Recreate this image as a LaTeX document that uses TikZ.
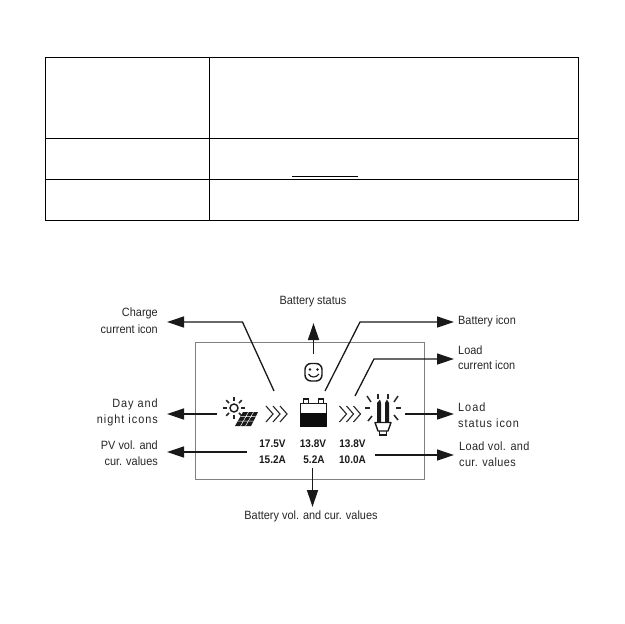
\documentclass[tikz,border=0pt]{standalone}
\usepackage{fontspec}
\setmainfont[FakeStretch=0.91]{Liberation Sans}
\usetikzlibrary{arrows.meta,calc}
\tikzset{
  lbl/.style={inner sep=0pt,text=black!85,font=\fontsize{12}{14}\selectfont},
  lblL/.style={lbl,anchor=west},
  lblR/.style={lbl,anchor=east},
  wide/.style={font=\fontsize{12}{14}\selectfont\addfontfeature{LetterSpace=8}},
  wider/.style={font=\fontsize{12}{14}\selectfont\addfontfeature{LetterSpace=3}},
  val/.style={inner sep=0pt,text=black!90,font=\fontsize{11}{13}\selectfont\bfseries},
  tbl/.style={line width=1pt,black},
  lead/.style={line width=1.3pt,black!90,-{Triangle[length=17pt,width=11pt]}},
  icon/.style={line width=1.4pt,black!90},
  chev/.style={line width=1.1pt,black!85,line join=miter},
  ray/.style={line width=1.5pt,black!85},
}
\newcommand{\chevrons}[2]{%
  \foreach \d in {0,7,14}{\draw[chev] ($(#1+\d,#2-8)$) -- ($(#1+\d+7,#2)$) -- ($(#1+\d,#2+8)$);}}
\begin{document}
\begin{tikzpicture}[x=1pt,y=-1pt]
\useasboundingbox (0,0) rectangle (624,624);
% table
\draw[tbl] (45,57) rectangle (578,220);
\draw[tbl] (45,138) -- (578,138);
\draw[tbl] (45,179) -- (578,179);
\draw[tbl] (209,57) -- (209,220);
\draw[line width=.9pt] (292,176) -- (358,176);
% frame
\draw[line width=.9pt,black!50] (195.5,342.5) rectangle (424.5,479.5);
% labels
\node[lblR] (t1) at (158,313) {Charge};
\node[lblR] (t2) at (158,329) {current icon};
\node[lblR,wide] (t3) at (158,404) {Day and};
\node[lblR,wide] (t4) at (158,420) {night icons};
\node[lblR] (t5) at (158,445) {PV vol. and};
\node[lblR] (t6) at (158,461) {cur. values};
\node[lbl] (t7) at (313,302) {Battery status};
\node[lbl] (t8) at (311,516) {Battery vol. and cur. values};
\node[lblL] (t9) at (458,321) {Battery icon};
\node[lblL] (t10) at (458,350) {Load};
\node[lblL] (t11) at (458,365.5) {current icon};
\node[lblL,wide] (t12) at (458,407) {Load};
\node[lblL,wide] (t13) at (458,423) {status icon};
\node[lblL,wider] (t14) at (459,446) {Load vol. and};
\node[lblL,wider] (t15) at (459,462) {cur. values};
% values
\node[val] (v1) at (272.5,444) {17.5V};
\node[val] (v2) at (272.5,460) {15.2A};
\node[val] (v3) at (313,444) {13.8V};
\node[val] (v4) at (314,460) {5.2A};
\node[val] (v5) at (352.5,444) {13.8V};
\node[val] (v6) at (352.5,460) {10.0A};
% connector ends
\coordinate (aS) at (274,391); \coordinate (aB) at (242.5,322); \coordinate (aT) at (167,322);
\coordinate (dS) at (216.5,414); \coordinate (dT) at (167,414);
\coordinate (pS) at (246.5,452); \coordinate (pT) at (167,452);
\coordinate (bS) at (312.5,468); \coordinate (bT) at (312.5,507);
\coordinate (sS) at (313.5,354); \coordinate (sT) at (313.5,323);
\coordinate (iS) at (325,391); \coordinate (iB) at (360,322); \coordinate (iT) at (454,322);
\coordinate (cS) at (355,396); \coordinate (cB) at (374,359); \coordinate (cT) at (454,359);
\coordinate (lS) at (405,414); \coordinate (lT) at (454,414);
\coordinate (vS) at (375,455); \coordinate (vT) at (454,455);
\draw[lead] (aS) -- (aB) -- (aT);
\draw[lead] (dS) -- (dT);
\draw[lead] (pS) -- (pT);
\draw[lead] (bS) -- (bT);
\draw[lead] (sS) -- (sT);
\draw[lead] (iS) -- (iB) -- (iT);
\draw[lead] (cS) -- (cB) -- (cT);
\draw[lead] (lS) -- (lT);
\draw[lead] (vS) -- (vT);
% sun
\draw[icon] (234,408) circle (4);
\foreach \a in {0,45,...,315}{\draw[ray] ($(234,408)+(\a:7)$) -- ($(234,408)+(\a:11)$);}
% solar panel
\fill[black!90] (243,412) -- (258,412) -- (251,426) -- (235,426) -- cycle;
\draw[white,line width=.5pt] (240.5,416.5) -- (255.5,416.5) (238,421) -- (253.5,421) (248.5,412) -- (240.5,426) (253.5,412) -- (245.5,426);
% chevrons
\chevrons{266}{414}
\chevrons{339.5}{414}
% smile
\draw[icon,rounded corners=6pt] (305,363.5) rectangle (322,381);
\fill[black!90] (310,369.5) circle (1.3) (317.5,369.5) circle (1.3);
\draw[line width=1.1pt,black!90] (308.5,374) .. controls (311,378) and (316,378) .. (319,374);
% battery
\draw[icon] (300.5,403.5) rectangle (326.5,426);
\fill[black!95] (300,413) rectangle (327,426.5);
\draw[line width=1.1pt,black!90] (303.5,403.5) |- (308.5,399) -- (308.5,403.5);
\draw[line width=1.1pt,black!90] (318.5,403.5) |- (323.5,399) -- (323.5,403.5);
% bulb
\fill[black!90] (377,403) -- (380,399.5) -- (381,403) -- (381,422) -- (377,422) -- cycle;
\fill[black!90] (385,403) -- (387,399.5) -- (389,403) -- (389,422) -- (385,422) -- cycle;
\draw[icon,line join=round] (375,422.5) -- (391,422.5) -- (388,431) -- (378,431) -- cycle;
\draw[icon] (379.5,431) -- (379.5,435) -- (386.5,435) -- (386.5,431);
\foreach \p/\q in {{367,396}/{371,402},{378,394}/{378,399},{388,394}/{388,399},{398,396}/{394,402},{368,421}/{372,416},{398,420}/{394,415},{365,408}/{370,408},{396,408}/{401,408}}{
  \draw[ray] (\p) -- (\q);}
\end{tikzpicture}
\end{document}
